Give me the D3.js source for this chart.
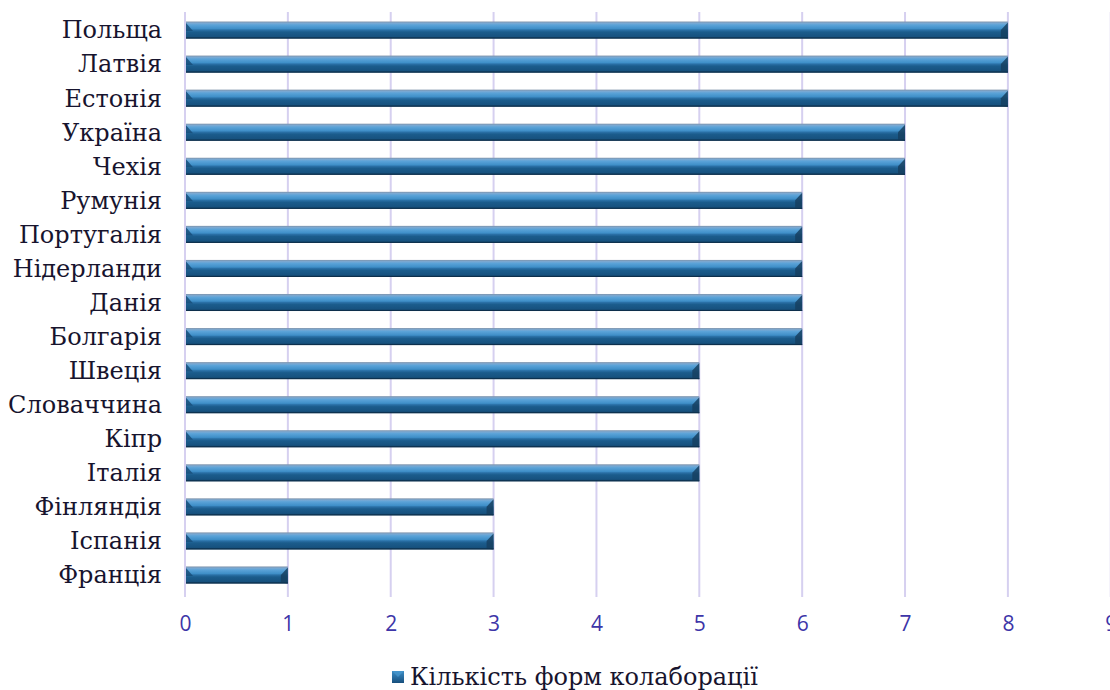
<!DOCTYPE html>
<html>
<head>
<meta charset="utf-8">
<script src="https://cdn.jsdelivr.net/npm/d3@7"></script>
<style>
  html, body { margin: 0; padding: 0; background: #ffffff; }
  svg { display: block; }
</style>
</head>
<body>
<svg id="chart" width="1110" height="690"></svg>
<script>
// Countries, top to bottom
const countries = ["Польща", "Латвія", "Естонія", "Україна", "Чехія", "Румунія", "Португалія",
  "Нідерланди", "Данія", "Болгарія", "Швеція", "Словаччина", "Кіпр", "Італія",
  "Фінляндія", "Іспанія", "Франція"];
// Number of collaboration forms per country
const counts = [8, 8, 8, 7, 7, 6, 6, 6, 6, 6, 5, 5, 5, 5, 3, 3, 1];
const xTicks = [0, 1, 2, 3, 4, 5, 6, 7, 8, 9];
const seriesName = "Кількість форм колаборації";

const svg = d3.select("#chart");
const plotLeft = 185, plotRight = 1110.75, plotTop = 13, plotBottom = 592;
const serif = "'DejaVu Serif', 'Liberation Serif', serif";

const x = d3.scaleLinear().domain([0, 9]).range([plotLeft, plotRight]);
const y = d3.scaleBand().domain(countries).range([plotTop, plotBottom]).paddingInner(0.5).paddingOuter(0.25);

// Bevel gradient for bars
const defs = svg.append("defs");
const grad = defs.append("linearGradient").attr("id", "barGrad")
  .attr("x1", 0).attr("y1", 0).attr("x2", 0).attr("y2", 1);
[[0, "#8094ab"], [0.1, "#7aa9d3"], [0.2, "#5ba3d8"], [0.42, "#3f8fc8"], [0.5, "#2a70a6"],
 [0.62, "#1b5c8c"], [0.88, "#17527f"], [1, "#0f3858"]].forEach(([o, c]) =>
  grad.append("stop").attr("offset", o).attr("stop-color", c));

const lgGrad = defs.append("linearGradient").attr("id", "legGrad")
  .attr("x1", 0).attr("y1", 0).attr("x2", 0).attr("y2", 1);
[[0, "#3c8cc4"], [0.5, "#2a6fa3"], [1, "#174f7c"]].forEach(([o, c]) =>
  lgGrad.append("stop").attr("offset", o).attr("stop-color", c));

// Vertical gridlines
svg.append("g").selectAll("line").data(xTicks).join("line")
  .attr("x1", d => x(d)).attr("x2", d => x(d))
  .attr("y1", 12).attr("y2", 597)
  .attr("stroke", "#d6d0f0").attr("stroke-width", 2);

// Bars
const bh = y.bandwidth();
const bars = svg.append("g").selectAll("g").data(countries).join("g")
  .attr("transform", d => `translate(0,${y(d)})`);

bars.append("rect")
  .attr("x", x(0) + 1)
  .attr("y", 0)
  .attr("width", (d, i) => x(counts[i]) - x(0) - 1)
  .attr("height", bh)
  .attr("fill", "url(#barGrad)");

// Left bevel face
bars.append("path")
  .attr("d", () => {
    const x0 = x(0) + 1, b = 7;
    return `M${x0},${1.5}L${x0 + b},${bh / 2 + 1}L${x0},${bh / 2 + 1}Z`;
  })
  .attr("fill", "#174f7a").attr("opacity", 0.85);

// Right bevel face
bars.append("path")
  .attr("d", (d, i) => {
    const x1 = x(counts[i]), b = 7;
    return `M${x1},${1}L${x1 - b},${bh / 2}L${x1 - b},${bh - 1}L${x1},${bh}Z`;
  })
  .attr("fill", "#163f60").attr("opacity", 0.85);

bars.append("line")
  .attr("x1", x(0) + 1).attr("x2", (d, i) => x(counts[i]))
  .attr("y1", bh - 0.5).attr("y2", bh - 0.5)
  .attr("stroke", "#0d2f4c").attr("stroke-width", 1);

// Category labels
const yAxis = d3.axisLeft(y).tickSize(0).tickPadding(0);
const gy = svg.append("g").attr("transform", `translate(${162},0)`).call(yAxis);
gy.select(".domain").remove();
gy.selectAll("text")
  .attr("font-family", serif)
  .attr("font-size", 24)
  .attr("fill", "#17142e")
  .attr("dy", "0.35em");

// Value axis labels
const xAxis = d3.axisBottom(x).tickValues(xTicks).tickSize(0).tickPadding(0).tickFormat(d3.format("d"));
const gx = svg.append("g").attr("transform", `translate(0,${623})`).call(xAxis);
gx.select(".domain").remove();
gx.selectAll("text")
  .attr("font-family", "'Open Sans', 'Liberation Sans', sans-serif")
  .attr("font-size", 21)
  .attr("fill", "#3d35a8")
  .attr("dy", "0.36em");

// Legend
const lg = svg.append("g").attr("transform", "translate(392,671)");
lg.append("rect").attr("width", 12).attr("height", 12).attr("fill", "url(#legGrad)");
lg.append("path").attr("d", "M0,0L6,6L12,0Z").attr("fill", "#4a9ad0").attr("opacity", 0.7);
lg.append("text").attr("x", 18).attr("y", 6).attr("dy", "0.35em")
  .attr("font-family", serif)
  .attr("font-size", 24)
  .attr("fill", "#17142e")
  .text(seriesName);
</script>
</body>
</html>
